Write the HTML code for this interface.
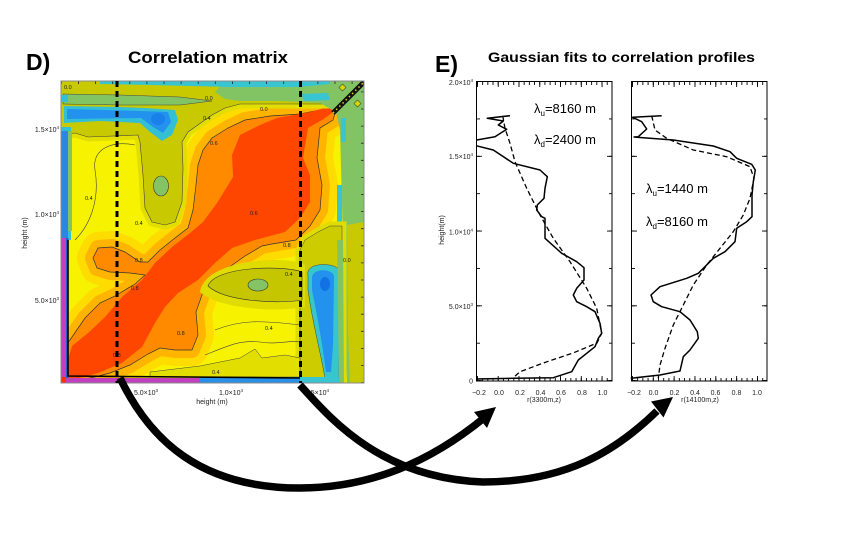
<!DOCTYPE html>
<html><head><meta charset="utf-8"><style>
html,body{margin:0;padding:0;background:#fff;}
svg{display:block;font-family:"Liberation Sans",Arial,sans-serif;}
</style></head><body>
<svg width="856" height="544" viewBox="0 0 856 544" xmlns="http://www.w3.org/2000/svg">
<rect width="856" height="544" fill="#fff"/>
<defs>
<clipPath id="mc"><rect x="61" y="81" width="303" height="302"/></clipPath>
<path id="orP" d="M61,378 L63,350 L72,337 L85,318 L100,303 L115,296 L135,284 L145,275 L130,273 L110,272 L97,268 L93,258 L98,248 L112,247 L125,252 L140,262 L148,262 L160,250 L175,238 L188,228 L193,210 L196,185 L198,165 L203,150 L212,138 L228,128 L245,120 L270,116 L300,114 L330,108 L336,110 L333,120 L320,128 L317,158 L322,185 L320,210 L310,226 L296,240 L272,244 L262,246 L245,256 L228,268 L215,276 L203,292 L196,312 L198,335 L192,350 L175,350 L160,348 L148,354 L130,365 L110,373 L95,377 L80,380 L61,383 Z"/>
<path id="olP" d="M61,81 L364,81 L364,104 L240,104 L225,108 L212,115 L202,122 L188,132 L182,142 L183,168 L182,202 L175,222 L165,225 L152,222 L145,208 L143,175 L140,142 L138,135 L88,137 L75,133 L61,135 Z"/>
</defs>

<g clip-path="url(#mc)">
<rect x="61" y="81" width="303" height="302" fill="#f6f200"/>
<use href="#orP" fill="none" stroke="#ffdc00" stroke-width="32" stroke-linejoin="round"/>
<use href="#orP" fill="none" stroke="#ffb400" stroke-width="16" stroke-linejoin="round"/>
<use href="#orP" fill="#ff8a00"/>
<use href="#orP" fill="none" stroke="#333" stroke-width="0.7"/>
<path d="M61,383 L64,373 L72,346 L88,333 L105,317 L122,297 L142,280 L155,263 L172,247 L190,233 L203,222 L217,203 L233,177 L232,155 L240,135 L260,125 L277,118 L310,112 L332,106 L336,110 L322,120 L308,128 L303,158 L310,175 L310,202 L300,218 L285,232 L255,240 L232,248 L215,263 L198,280 L178,293 L165,307 L155,323 L142,347 L122,363 L98,373 L80,378 L70,383 Z" fill="#ff4600"/>

<use href="#olP" fill="none" stroke="#e2de00" stroke-width="9" stroke-linejoin="round"/>
<use href="#olP" fill="#c9c900" stroke="#444" stroke-width="0.6"/>
<ellipse cx="161" cy="186" rx="7.5" ry="10" fill="#84c464" stroke="#333" stroke-width="0.6"/>

<path d="M225,81 L364,81 L364,383 L347,383 L345,330 L343,240 L340,130 L336,112 L320,103 L280,101 L240,101 L225,99 L215,92 Z" fill="#82c464"/>
<path d="M63,94 L120,95 L180,97 L212,101 L180,105 L120,105 L63,104 Z" fill="#82c464" stroke="#444" stroke-width="0.5"/>
<path d="M100,81 L330,81 L330,84 L300,87 L230,87 L150,85 L100,84 Z" fill="#38c4d0"/>
<path d="M300,94 L328,93 L330,100 L305,101 Z" fill="#38c4d0"/>
<rect x="341" y="118" width="5" height="24" fill="#38c4d0"/>
<rect x="337" y="185" width="5" height="37" fill="#38c4d0"/>

<path d="M64,106 L120,107 L145,108 L175,110 L178,120 L172,135 L162,141 L150,132 L140,123 L100,121 L64,123 Z" fill="#34c0d4"/>
<path d="M67,109 L140,111 L168,112 L171,122 L163,133 L153,127 L141,118 L67,119 Z" fill="#2292ee"/>
<ellipse cx="158" cy="119" rx="7" ry="6" fill="#1a80ea"/>
<path d="M61,95 L68,95 L68,102 L61,102 Z" fill="#34c0d4"/>

<rect x="61" y="127" width="10" height="113" fill="#34c0d4"/>
<rect x="61" y="131" width="7" height="107" fill="#2a86e0"/>
<rect x="68" y="131" width="4" height="100" fill="#82c464"/>
<rect x="61" y="238" width="6" height="140" fill="#c040c0"/>
<rect x="66" y="238" width="2.5" height="140" fill="#2a5ac8"/>

<path d="M305,240 L318,232 L330,226 L342,226 L342,383 L300,383 L300,250 Z" fill="none" stroke="#e0dc00" stroke-width="9"/>
<path d="M305,240 L318,232 L330,226 L342,226 L342,383 L300,383 L300,250 Z" fill="#cccc00" stroke="#444" stroke-width="0.5"/>
<path d="M347,225 L364,222 L364,383 L350,383 L348,330 Z" fill="#c9c900"/>
<path d="M308,275 C305,262 335,262 339,270 L339,378 L325,378 C320,350 312,320 308,290 Z" fill="#36c6cc" stroke="#444" stroke-width="0.5"/>
<path d="M312,278 C312,268 332,268 334,276 L333,345 L331,372 L326,372 C322,340 316,310 312,290 Z" fill="#2292ee"/>
<ellipse cx="325" cy="284" rx="5" ry="7" fill="#1272e4"/>
<path d="M337,240 L343,240 L344,383 L339,383 Z" fill="#82c464"/>

<path d="M200,292 C205,258 290,255 305,265 L305,307 C280,312 220,310 200,292 Z" fill="#e0dc00"/>
<path d="M208,286 C215,266 285,265 302,272 L302,300 C280,304 225,302 208,286 Z" fill="#c6c600" stroke="#333" stroke-width="0.6"/>
<ellipse cx="258" cy="285" rx="10" ry="6" fill="#84c464" stroke="#333" stroke-width="0.6"/>
<path d="M150,372 L200,366 L240,358 L255,349 L262,358 L285,355 L300,358 L300,377 L150,377 Z" fill="#e2de00" stroke="#444" stroke-width="0.5"/>

<path d="M75,240 C90,225 100,200 95,170 C92,150 110,140 135,145" fill="none" stroke="#444" stroke-width="0.6"/>
<path d="M215,330 C240,320 260,320 300,325" fill="none" stroke="#444" stroke-width="0.6"/>
<path d="M205,355 C230,345 240,340 260,342 C275,345 290,340 300,342" fill="none" stroke="#444" stroke-width="0.6"/>

<rect x="61" y="378" width="140" height="5" fill="#c040c0"/>
<rect x="200" y="377" width="100" height="6" fill="#2890e8"/>
<rect x="300" y="377" width="40" height="6" fill="#38c4d0"/>
<rect x="61" y="377" width="5" height="6" fill="#ff3000"/>
<polyline points="68,240 68,376 300,378" fill="none" stroke="#000" stroke-width="1.6"/>

<line x1="333" y1="113" x2="367" y2="79" stroke="#111" stroke-width="5"/>
<line x1="333" y1="113" x2="367" y2="79" stroke="#d8d800" stroke-width="1.5" stroke-dasharray="1.5 3"/>
<rect x="340" y="85" width="5" height="5" fill="#d8d800" stroke="#333" stroke-width="0.5" transform="rotate(45 342.5 87.5)"/>
<rect x="355" y="101" width="5" height="5" fill="#d8d800" stroke="#333" stroke-width="0.5" transform="rotate(45 357.5 103.5)"/>

<g font-size="5.5" fill="#222">
<text x="64" y="89">0.0</text>
<text x="205" y="100">0.0</text>
<text x="260" y="111">0.0</text>
<text x="203" y="120">0.4</text>
<text x="210" y="145">0.6</text>
<text x="85" y="200">0.4</text>
<text x="135" y="225">0.4</text>
<text x="135" y="262">0.8</text>
<text x="131" y="290">0.8</text>
<text x="113" y="357">0.8</text>
<text x="250" y="215">0.6</text>
<text x="283" y="247">0.8</text>
<text x="285" y="276">0.4</text>
<text x="265" y="330">0.4</text>
<text x="212" y="374">0.4</text>
<text x="343" y="262">0.0</text>
<text x="177" y="335">0.8</text>
</g>
</g>
<line x1="61" y1="82.5" x2="364" y2="82.5" stroke="#222" stroke-width="3" stroke-dasharray="0.8 16.3"/>
<line x1="362.5" y1="383" x2="362.5" y2="81" stroke="#222" stroke-width="3" stroke-dasharray="0.8 16.3"/>
<rect x="61" y="81" width="303" height="302" fill="none" stroke="#8a8a8a" stroke-width="1"/>
<line x1="117" y1="81" x2="117" y2="383" stroke="#000" stroke-width="3" stroke-dasharray="6 4"/>
<line x1="300.5" y1="81" x2="300.5" y2="383" stroke="#000" stroke-width="3" stroke-dasharray="6 4"/>

<g font-size="7" fill="#222">
<text x="59" y="132" text-anchor="end">1.5×10<tspan font-size="4.5" dy="-3">4</tspan></text>
<text x="59" y="217" text-anchor="end">1.0×10<tspan font-size="4.5" dy="-3">4</tspan></text>
<text x="59" y="303" text-anchor="end">5.0×10<tspan font-size="4.5" dy="-3">3</tspan></text>
<text x="146" y="395" text-anchor="middle">5.0×10<tspan font-size="4.5" dy="-3">3</tspan></text>
<text x="231" y="395" text-anchor="middle">1.0×10<tspan font-size="4.5" dy="-3">4</tspan></text>
<text x="317" y="395" text-anchor="middle">1.5×10<tspan font-size="4.5" dy="-3">4</tspan></text>
<text x="212" y="404" text-anchor="middle">height  (m)</text>
<text transform="translate(27,233) rotate(-90)" text-anchor="middle">height  (m)</text>
</g>

<text x="26" y="70" font-size="23" font-weight="bold" fill="#000">D)</text>
<text x="128" y="63" font-size="17" font-weight="bold" fill="#000" textLength="160" lengthAdjust="spacingAndGlyphs">Correlation matrix</text>
<text x="435" y="72" font-size="23" font-weight="bold" fill="#000">E)</text>
<text x="488" y="62" font-size="14" font-weight="bold" fill="#000" textLength="267" lengthAdjust="spacingAndGlyphs">Gaussian fits to correlation profiles</text>

<g stroke="#000" fill="none">
<rect x="476.5" y="81.5" width="135.5" height="299.5" stroke-width="1"/>
<line x1="477" y1="379.5" x2="612" y2="379.5" stroke-width="3" stroke-dasharray="0.9 4.29"/>
<line x1="477" y1="378.5" x2="612" y2="378.5" stroke-width="5" stroke-dasharray="0.9 19.87"/>
<line x1="477" y1="83.5" x2="612" y2="83.5" stroke-width="3" stroke-dasharray="0.9 4.29"/>
<line x1="477" y1="84.5" x2="612" y2="84.5" stroke-width="5" stroke-dasharray="0.9 19.87"/>
<line x1="478.5" y1="381" x2="478.5" y2="82" stroke-width="3" stroke-dasharray="0.9 36.475"/>
<line x1="479.5" y1="381" x2="479.5" y2="82" stroke-width="5" stroke-dasharray="0.9 73.85"/>
<line x1="610.5" y1="381" x2="610.5" y2="82" stroke-width="3" stroke-dasharray="0.9 36.475"/>
<line x1="609.5" y1="381" x2="609.5" y2="82" stroke-width="5" stroke-dasharray="0.9 73.85"/>
<polyline stroke-width="1.5" stroke-linejoin="round" points="510,115.7 487.3,118.3 503.3,121 498.3,125 506.7,129.3 495,136.7 476.7,140"/>
<polyline stroke-width="1.5" stroke-linejoin="round" points="476,145.7 493.3,150 513.3,163.3 540,170 547.3,176.7 545,188.3 544,198.3 537.3,205 536.7,210 541.7,216.7 545,218.3 545,238.3 561.7,253.3 576.7,261.7 584,267.7 584,280 576.7,288.3 573.3,295 576.7,301.7 586.7,306.7 595,311.7 600,323.3 601.7,333.3 598.3,338.3 595,346.7 578.3,360 571.7,371.7 553.3,377.7 513.3,378.3 476,379"/>
<polyline stroke-width="1.3" stroke-dasharray="5 3" stroke-linejoin="round" points="502.7,115.7 505,128.3 510,143.3 515,161.7 526.7,188.3 540,215 553.3,238.3 570,261.7 586.7,288.3 596.7,308.3 601.7,333.3 597,343 573,353 547,361.7 520,371.7 513,378"/>
</g>
<g font-size="7" fill="#222">
<text x="473" y="85" text-anchor="end">2.0×10<tspan font-size="4.5" dy="-3">4</tspan></text>
<text x="473" y="159" text-anchor="end">1.5×10<tspan font-size="4.5" dy="-3">4</tspan></text>
<text x="473" y="234.5" text-anchor="end">1.0×10<tspan font-size="4.5" dy="-3">4</tspan></text>
<text x="473" y="309" text-anchor="end">5.0×10<tspan font-size="4.5" dy="-3">3</tspan></text>
<text x="473" y="383.5" text-anchor="end">0</text>
<text x="479" y="395" text-anchor="middle">−0.2</text>
<text x="499" y="395" text-anchor="middle">0.0</text>
<text x="520" y="395" text-anchor="middle">0.2</text>
<text x="540.5" y="395" text-anchor="middle">0.4</text>
<text x="561" y="395" text-anchor="middle">0.6</text>
<text x="582" y="395" text-anchor="middle">0.8</text>
<text x="602.5" y="395" text-anchor="middle">1.0</text>
<text x="544" y="402" text-anchor="middle">r(3300m,z)</text>
<text x="634" y="395" text-anchor="middle">−0.2</text>
<text x="653.5" y="395" text-anchor="middle">0.0</text>
<text x="674.5" y="395" text-anchor="middle">0.2</text>
<text x="695" y="395" text-anchor="middle">0.4</text>
<text x="715.5" y="395" text-anchor="middle">0.6</text>
<text x="736.5" y="395" text-anchor="middle">0.8</text>
<text x="757" y="395" text-anchor="middle">1.0</text>
<text x="700" y="402" text-anchor="middle">r(14100m,z)</text>
<text transform="translate(444,230) rotate(-90)" text-anchor="middle">height(m)</text>
</g>
<g font-size="13" fill="#000">
<text x="534" y="113">λ<tspan font-size="8" dy="3">u</tspan><tspan dy="-3">=8160 m</tspan></text>
<text x="534" y="144">λ<tspan font-size="8" dy="3">d</tspan><tspan dy="-3">=2400 m</tspan></text>
<text x="646" y="193">λ<tspan font-size="8" dy="3">u</tspan><tspan dy="-3">=1440 m</tspan></text>
<text x="646" y="226">λ<tspan font-size="8" dy="3">d</tspan><tspan dy="-3">=8160 m</tspan></text>
</g>

<g stroke="#000" fill="none">
<rect x="631.5" y="81.5" width="135.5" height="299.5" stroke-width="1"/>
<line x1="632" y1="379.5" x2="767" y2="379.5" stroke-width="3" stroke-dasharray="0.9 4.31"/>
<line x1="632" y1="378.5" x2="767" y2="378.5" stroke-width="5" stroke-dasharray="0.9 19.94"/>
<line x1="632" y1="83.5" x2="767" y2="83.5" stroke-width="3" stroke-dasharray="0.9 4.31"/>
<line x1="632" y1="84.5" x2="767" y2="84.5" stroke-width="5" stroke-dasharray="0.9 19.94"/>
<line x1="633.5" y1="381" x2="633.5" y2="82" stroke-width="3" stroke-dasharray="0.9 36.475"/>
<line x1="634.5" y1="381" x2="634.5" y2="82" stroke-width="5" stroke-dasharray="0.9 73.85"/>
<line x1="765.5" y1="381" x2="765.5" y2="82" stroke-width="3" stroke-dasharray="0.9 36.475"/>
<line x1="764.5" y1="381" x2="764.5" y2="82" stroke-width="5" stroke-dasharray="0.9 73.85"/>
<polyline stroke-width="1.5" stroke-linejoin="round" points="661.7,115.7 632.7,117.3 641.7,121.7 646.7,129 638.3,136.7 634,137 673.3,140 713.3,146 730,151.7 736.7,158.3 751.7,164.3 755.3,170 753.3,181.7 752,195 752,216.7 746.7,221.7 736.7,228.3 735,241.7 725,251.7 713.3,258.3 708.3,263.3 698.3,273.3 686.7,278.3 660,286.7 651,295 653.3,301.7 661.7,306.7 680,311.7 690,320 697.3,331.7 698.3,338.3 690,350 683.3,356.7 680,371 660,375 630.7,378.3"/>
<polyline stroke-width="1.3" stroke-dasharray="5 3" stroke-linejoin="round" points="651.7,115.7 655,130 666.7,138.3 693.3,150 726.7,156.7 750,166.7 754,178.3 750,198.3 743.3,215 733.3,231.7 720,248.3 706.7,265 693.3,285 683.3,305 673.3,325 665,348.3 660,365 658.3,378.3"/>
</g>

<g fill="none" stroke="#000" stroke-width="7.5" stroke-linecap="butt">
<path d="M120,378 C150,440 200,488 300,488 C370,488 430,462 484,418"/>
<path d="M300,385 C330,418 380,478 483,482 C565,482 615,452 657,411"/>
</g>
<polygon points="496,407 487,428 474,412" fill="#000"/>
<polygon points="673,397 663.5,417.5 651,401.5" fill="#000"/>
</svg>
</body></html>
